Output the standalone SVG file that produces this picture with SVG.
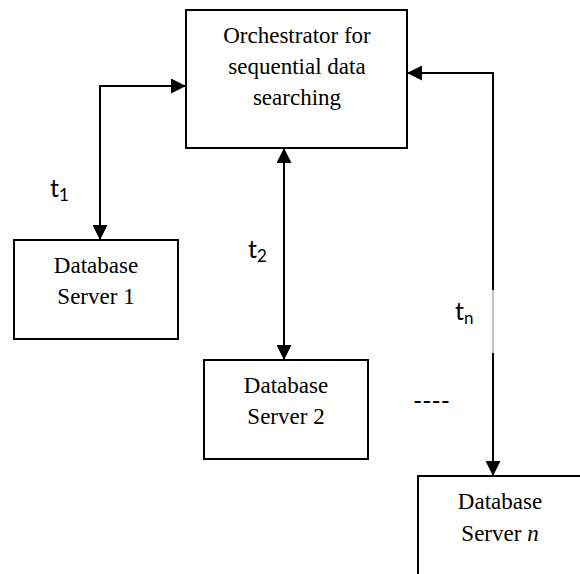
<svg xmlns="http://www.w3.org/2000/svg" width="580" height="574" viewBox="0 0 580 574">
  <defs>
    <marker id="arrow" viewBox="0 0 10 10" refX="10" refY="5" markerUnits="userSpaceOnUse" markerWidth="16" markerHeight="15" orient="auto-start-reverse">
      <path d="M0,0 L10,5 L0,10 z" fill="#000"/>
    </marker>
    <style>
      .box { fill: #fff; stroke: #000; stroke-width: 2; }
      .lbl { font-family: "Liberation Serif", "Times New Roman", serif; font-size: 23px; fill: #000; text-anchor: middle; }
      .t { font-family: Lato, "Open Sans", sans-serif; font-size: 25px; fill: #000; }
      .sub { font-size: 17px; }
      .conn { fill: none; stroke: #000; stroke-width: 2; }
    </style>
  </defs>
  <rect width="580" height="574" fill="#fff"/>

  <g id="orchestrator">
    <rect class="box" x="186" y="10" width="221" height="138"/>
    <text class="lbl" x="297" y="43">Orchestrator for</text>
    <text class="lbl" x="297" y="74">sequential data</text>
    <text class="lbl" x="297" y="105">searching</text>
  </g>

  <g id="db1">
    <rect class="box" x="14" y="240" width="164" height="99"/>
    <text class="lbl" x="96" y="273">Database</text>
    <text class="lbl" x="96" y="304">Server 1</text>
  </g>

  <g id="db2">
    <rect class="box" x="204" y="360" width="164" height="99"/>
    <text class="lbl" x="286" y="393">Database</text>
    <text class="lbl" x="286" y="424">Server 2</text>
  </g>

  <g id="dbn">
    <rect class="box" x="418" y="476" width="170" height="120"/>
    <text class="lbl" x="500" y="509">Database</text>
    <text class="lbl" x="500" y="541">Server <tspan font-style="italic">n</tspan></text>
  </g>

  <g id="connectors">
    <path class="conn" d="M186,86 H100 V240" marker-start="url(#arrow)" marker-end="url(#arrow)"/>
    <path class="conn" d="M284,148 V360" marker-start="url(#arrow)" marker-end="url(#arrow)"/>
    <path class="conn" d="M407,73 H493 V290" marker-start="url(#arrow)"/>
    <line x1="493" y1="290" x2="493" y2="353" stroke="#888" stroke-width="1"/>
    <path class="conn" d="M493,353 V476" marker-end="url(#arrow)"/>
  </g>

  <g id="labels">
    <text class="t" x="50" y="197">t<tspan class="sub" dy="4">1</tspan></text>
    <text class="t" x="248" y="258">t<tspan class="sub" dy="4">2</tspan></text>
    <text class="t" x="455" y="320">t<tspan class="sub" dy="4">n</tspan></text>
    <text class="t" x="413" y="410">----</text>
  </g>
</svg>
